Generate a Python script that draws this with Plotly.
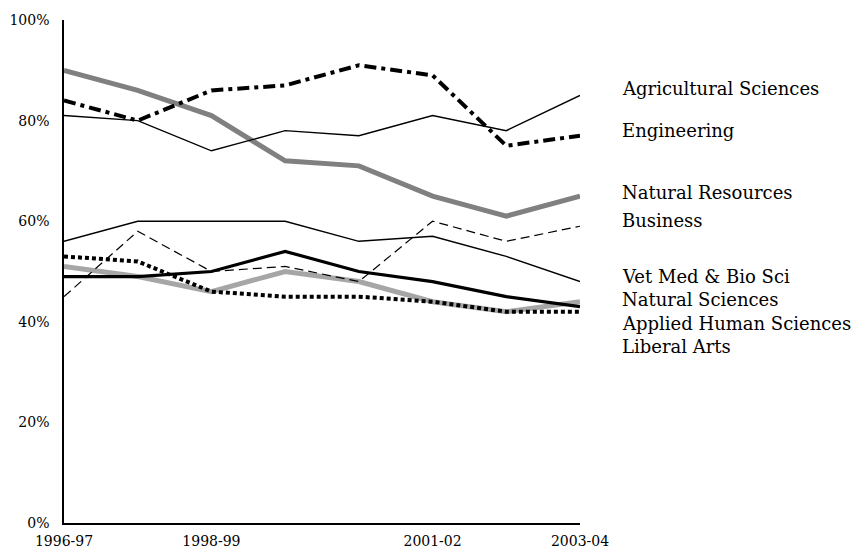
import plotly.graph_objects as go

years = ["1996-97", "1997-98", "1998-99", "1999-00", "2000-01", "2001-02", "2002-03", "2003-04"]
tick_years = ["1996-97", "1998-99", "2001-02", "2003-04"]

agricultural_sciences = [81, 80, 74, 78, 77, 81, 78, 85]
engineering = [84, 80, 86, 87, 91, 89, 75, 77]
natural_resources = [90, 86, 81, 72, 71, 65, 61, 65]
business = [45, 58, 50, 51, 48, 60, 56, 59]
vet_med_bio_sci = [56, 60, 60, 60, 56, 57, 53, 48]
natural_sciences = [51, 49, 46, 50, 48, 44, 42, 44]
applied_human_sciences = [49, 49, 50, 54, 50, 48, 45, 43]
liberal_arts = [53, 52, 46, 45, 45, 44, 42, 42]

# label name, values, line colour, width, dash, label y position (in %)
series = [
    ("Agricultural Sciences", agricultural_sciences, "#000000", 1.4, "solid", 86.4),
    ("Engineering", engineering, "#000000", 4, "12px,5px,4px,5px", 78.0),
    ("Natural Resources", natural_resources, "#808080", 5, "solid", 65.8),
    ("Business", business, "#000000", 1.2, "9px,5px", 60.2),
    ("Vet Med & Bio Sci", vet_med_bio_sci, "#000000", 1.4, "solid", 49.0),
    ("Natural Sciences", natural_sciences, "#a6a6a6", 5, "solid", 44.4),
    ("Applied Human Sciences", applied_human_sciences, "#000000", 3.2, "solid", 39.6),
    ("Liberal Arts", liberal_arts, "#000000", 4, "4px,3px", 35.0),
]

FONT = "DejaVu Serif"

fig = go.Figure()
draw_order = [2, 5, 0, 4, 3, 7, 6, 1]
for i in draw_order:
    name, vals, color, width, dash, _ = series[i]
    fig.add_trace(go.Scatter(
        x=years, y=vals, mode="lines", name=name,
        line=dict(color=color, width=width, dash=dash),
        showlegend=False, hoverinfo="skip",
    ))

for name, vals, color, width, dash, label_y in series:
    fig.add_annotation(
        x=1.077, xref="paper", y=label_y, yref="y",
        text=name, showarrow=False, xanchor="left", yanchor="middle",
        font=dict(family=FONT, size=18, color="#000000"),
    )

fig.update_layout(
    width=866, height=548,
    margin=dict(l=64, r=286, t=20, b=25, autoexpand=False),
    paper_bgcolor="white", plot_bgcolor="white",
    font=dict(family=FONT, size=14, color="#000000"),
)
fig.update_xaxes(
    type="category", range=[0, 7], automargin=False,
    tickmode="array", tickvals=tick_years, ticktext=tick_years,
    showgrid=False, zeroline=False,
    showline=True, linecolor="black", linewidth=1.5,
    ticks="outside", ticklen=4, tickcolor="rgba(0,0,0,0)",
    tickfont=dict(family=FONT, size=14),
)
fig.update_yaxes(
    range=[0, 100], automargin=False, tickvals=[0, 20, 40, 60, 80, 100],
    ticktext=["0%", "20%", "40%", "60%", "80%", "100%"],
    showgrid=False, zeroline=False,
    showline=True, linecolor="black", linewidth=1.5,
    ticks="outside", ticklen=10, tickcolor="rgba(0,0,0,0)",
    tickfont=dict(family=FONT, size=14),
)

fig.write_html("out.html")
